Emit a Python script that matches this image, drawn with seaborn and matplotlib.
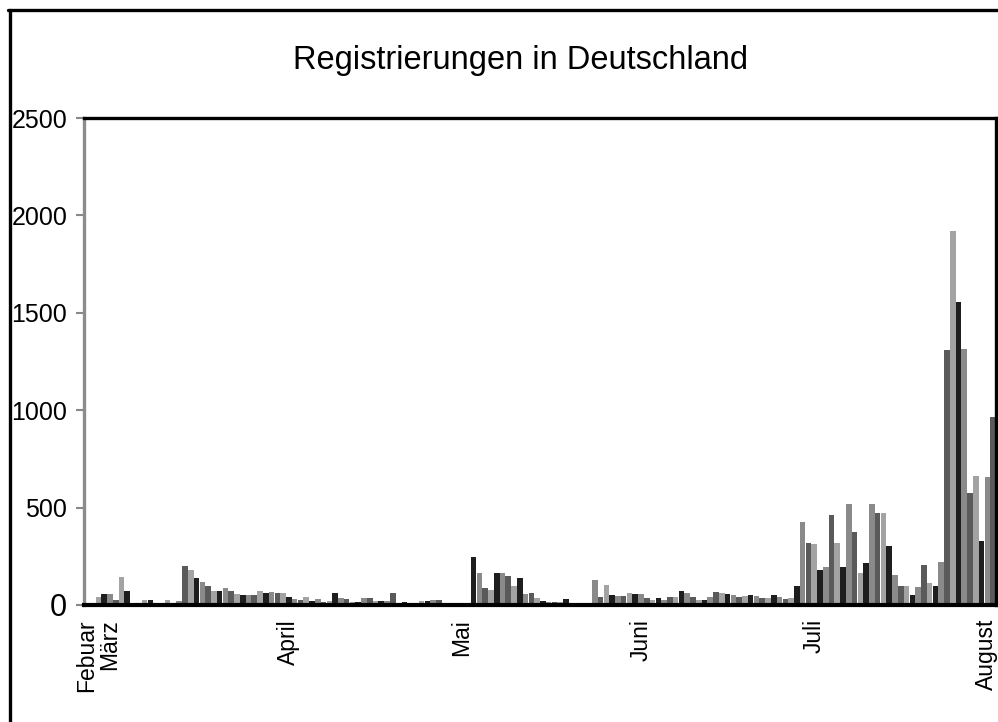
import numpy as np
import pandas as pd
import seaborn as sns
import matplotlib.pyplot as plt
import matplotlib.transforms as mtransforms
from matplotlib.lines import Line2D

# daily registrations, 26 Feb .. 1 Aug
values = [
    5, 10, 40, 55, 55, 25, 145, 70, 5, 5,
    25, 25, 5, 5, 25, 10, 20, 200, 180, 140,
    120, 95, 70, 70, 85, 70, 55, 50, 50, 50,
    70, 60, 65, 60, 60, 40, 30, 25, 40, 20,
    30, 15, 20, 60, 35, 30, 15, 15, 35, 35,
    20, 20, 20, 60, 5, 15, 5, 5, 20, 20,
    25, 25, 5, 5, 5, 5, 5, 245, 165, 85,
    75, 165, 165, 150, 95, 140, 55, 60, 35, 20,
    15, 15, 15, 30, 5, 5, 5, 10, 130, 40,
    105, 50, 45, 45, 60, 55, 55, 35, 25, 35,
    25, 40, 40, 70, 60, 40, 25, 25, 40, 65,
    60, 55, 50, 40, 45, 50, 45, 35, 35, 50,
    40, 30, 35, 100, 425, 320, 315, 180, 195, 460,
    320, 195, 520, 375, 165, 215, 520, 470, 470, 305,
    155, 100, 95, 50, 90, 205, 115, 95, 220, 1310,
    1920, 1555, 1315, 575, 660, 330, 655, 965,
]
month_pos = [0, 4, 35, 65, 96, 126, 157]
month_labels = ["Febuar", "März", "April", "Mai", "Juni", "Juli", "August"]
y_ticks = [0, 500, 1000, 1500, 2000, 2500]

df = pd.DataFrame({"day": range(len(values)), "n": values})

sns.set_style("white")
plt.rcParams["font.family"] = ["Liberation Sans", "DejaVu Sans"]
plt.rcParams["text.color"] = "black"
plt.rcParams["xtick.color"] = "black"
plt.rcParams["ytick.color"] = "black"

fig = plt.figure(figsize=(9.98, 7.22), dpi=100)
ax = fig.add_axes([84 / 998, 1 - 605 / 722, 912 / 998, 487 / 722])

grays = ["#8a8a8a", "#5a5a5a", "#a3a3a3", "#1e1e1e"]
palette = [grays[i % 4] for i in range(len(values))]
sns.barplot(data=df, x="day", y="n", hue="day", palette=palette,
            legend=False, width=0.97, saturation=1, linewidth=0, ax=ax)

ax.set_ylim(0, 2500)
ax.set_yticks(y_ticks)
ax.set_yticklabels([str(t) for t in y_ticks], fontsize=18)
ax.get_yticklabels()[0].set_fontsize(22)
ax.tick_params(axis="y", left=True, length=6, width=1.5, color="#888888",
               labelcolor="black", pad=6)

ax.set_xticks(month_pos)
ax.set_xticklabels(month_labels, rotation=90, fontsize=16.5, va="top", ha="center")
ax.tick_params(axis="x", length=0, pad=10, labelcolor="black")
ax.set_xlabel("")
ax.set_ylabel("")

# last label sits right at the figure edge; nudge it in a little
last = ax.get_xticklabels()[-1]
last.set_transform(last.get_transform() +
                   mtransforms.ScaledTranslation(-7 / 100, 0, fig.dpi_scale_trans))

for side in ["top", "right", "bottom"]:
    ax.spines[side].set_visible(True)
    ax.spines[side].set_color("black")
    ax.spines[side].set_linewidth(2.4)
ax.spines["bottom"].set_linewidth(3)
ax.spines["left"].set_color("#8c8c8c")
ax.spines["left"].set_linewidth(2.4)

fig.text(521 / 998, 1 - 60 / 722, "Registrierungen in Deutschland",
         ha="center", va="center", fontsize=23.5, color="black")

# outer frame (left and top edges)
fig.add_artist(Line2D([9.5 / 998, 9.5 / 998], [0, 1 - 9.5 / 722],
                      transform=fig.transFigure, color="black", lw=2.4))
fig.add_artist(Line2D([8 / 998, 1], [1 - 9.5 / 722, 1 - 9.5 / 722],
                      transform=fig.transFigure, color="black", lw=2.4))

fig.savefig("out.png", dpi=100)
